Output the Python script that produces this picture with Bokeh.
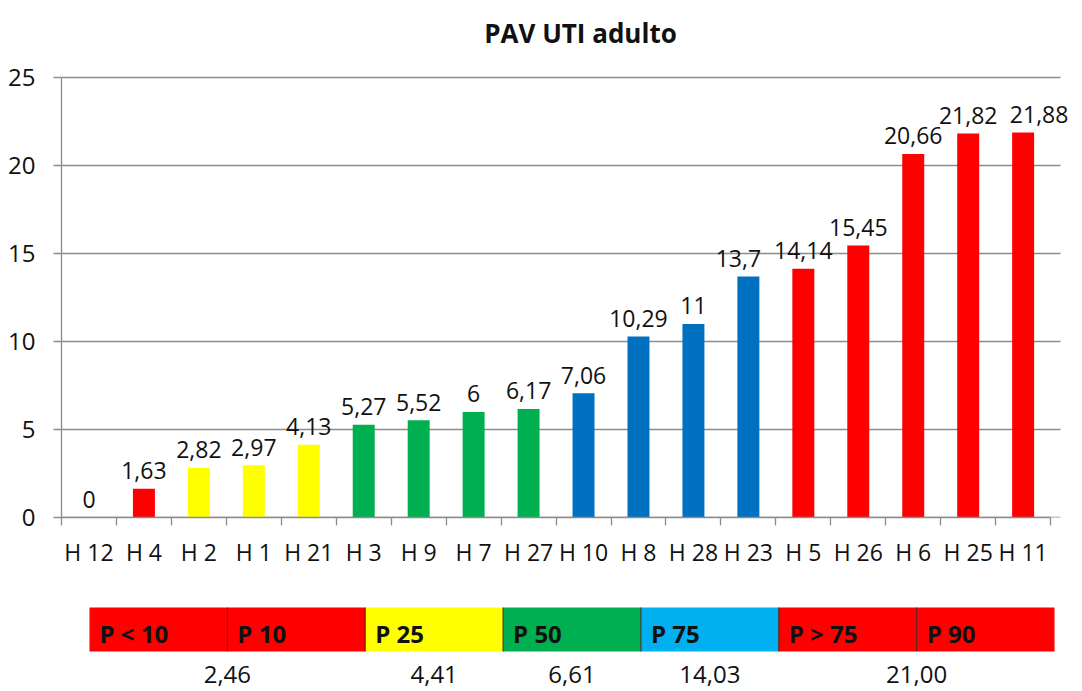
import numpy as np
from bokeh.plotting import figure
from bokeh.models import ColumnDataSource, Range1d, FixedTicker
from bokeh.layouts import column
from bokeh.embed import file_html
from bokeh.resources import INLINE
from bokeh.core.properties import value

# ---------------- data ----------------
title_text = "PAV UTI adulto"
categories = ["H 12", "H 4", "H 2", "H 1", "H 21", "H 3", "H 9", "H 7", "H 27",
              "H 10", "H 8", "H 28", "H 23", "H 5", "H 26", "H 6", "H 25", "H 11"]
values = [0, 1.63, 2.82, 2.97, 4.13, 5.27, 5.52, 6, 6.17,
          7.06, 10.29, 11, 13.7, 14.14, 15.45, 20.66, 21.82, 21.88]
bar_colors = ["#FF0000", "#FF0000", "#FFFF00", "#FFFF00", "#FFFF00",
              "#00B050", "#00B050", "#00B050", "#00B050",
              "#0070C0", "#0070C0", "#0070C0", "#0070C0",
              "#FF0000", "#FF0000", "#FF0000", "#FF0000", "#FF0000"]
y_ticks = [0, 5, 10, 15, 20, 25]

band_labels = ["P < 10", "P 10", "P 25", "P 50", "P 75", "P > 75", "P 90"]
band_colors = ["#FF0000", "#FF0000", "#FFFF00", "#00B050", "#00B0F0", "#FF0000", "#FF0000"]
threshold_labels = ["2,46", "4,41", "6,61", "14,03", "21,00"]
threshold_band_pos = [1, 2.5, 3.5, 4.5, 6]

FONT = "Open Sans"
GRID = "#8c8c8c"
TXT = "#111111"

# layout (pixels)
W = 1080
H1, H2 = 580, 110
FL = 61                    # chart frame left
GR = 1060                  # right end of the gridlines
Y0_PX, Y25_PX = 517, 77    # pixel rows of y=0 and y=25
n = len(categories)
px_per_cat = (GR - FL) / 18.18
px_per_y = (Y0_PX - Y25_PX) / 25.0
x_end = (W - FL) / px_per_cat
grid_end = (GR - FL) / px_per_cat
y_top = 25 + Y25_PX / px_per_y

# small horizontal nudges of some data labels (as placed in the original)
label_nudge = {"H 23": -10, "H 11": 16}

# ---------------- main chart ----------------
centers = np.arange(n) + 0.5
labels = [f"{v:g}".replace(".", ",") for v in values]
dx = [label_nudge.get(c, 0) for c in categories]
src = ColumnDataSource(dict(x=centers, top=values, color=bar_colors, label=labels, dx=dx))

p = figure(width=W, height=H1, output_backend="svg", toolbar_location=None,
           x_range=Range1d(0, x_end), y_range=Range1d(0, y_top),
           min_border_left=FL, min_border_right=0, min_border_top=0,
           min_border_bottom=H1 - Y0_PX)
p.outline_line_color = None
p.background_fill_color = "white"
p.border_fill_color = "white"

# horizontal gridlines (ending where the original's do)
p.xgrid.visible = False
p.ygrid.visible = False
p.segment(x0=[0] * len(y_ticks), x1=[grid_end] * len(y_ticks), y0=y_ticks, y1=y_ticks,
          line_color=GRID, line_width=1.3)

p.vbar(x="x", top="top", width=0.4, bottom=0, fill_color="color", line_color=None, source=src)
p.text(x="x", y="top", text="label", source=src, text_align="center",
       text_baseline="alphabetic", y_offset=-18, x_offset="dx", text_font=value(FONT),
       text_font_size="23px", text_color=TXT)

# title, drawn in the empty band above y = 25
p.text(x=[n / 2], y=[25 + (Y25_PX - 32) / px_per_y], text=[title_text],
       x_offset=(580 - FL) - (n / 2) * px_per_cat,
       text_align="center", text_baseline="alphabetic", text_font=value(FONT),
       text_font_size="26px", text_font_style="bold", text_color=TXT)

# y axis
p.yaxis.ticker = FixedTicker(ticks=y_ticks)
p.yaxis.bounds = (0, 25)
p.yaxis.axis_line_color = GRID
p.yaxis.axis_line_width = 1.3
p.yaxis.major_tick_line_color = GRID
p.yaxis.major_tick_line_width = 1.3
p.yaxis.major_tick_in = 0
p.yaxis.major_tick_out = 8
p.yaxis.minor_tick_line_color = None
p.yaxis.major_label_standoff = 18
p.yaxis.major_label_text_font = FONT
p.yaxis.major_label_text_font_size = "24px"
p.yaxis.major_label_text_color = TXT

# x axis: labels at centres, tick marks at category boundaries
p.xaxis.ticker = FixedTicker(ticks=list(centers), minor_ticks=list(np.arange(n + 1)))
p.xaxis.major_label_overrides = {float(c): cat for c, cat in zip(centers, categories)}
p.xaxis.bounds = (0, n)
p.xaxis.axis_line_color = GRID
p.xaxis.axis_line_width = 1.3
p.xaxis.major_tick_line_color = None
p.xaxis.major_tick_in = 0
p.xaxis.major_tick_out = 8
p.xaxis.minor_tick_line_color = GRID
p.xaxis.minor_tick_line_width = 1.3
p.xaxis.minor_tick_in = 0
p.xaxis.minor_tick_out = 8
p.xaxis.major_label_standoff = 10
p.xaxis.major_label_text_font = FONT
p.xaxis.major_label_text_font_size = "23px"
p.xaxis.major_label_text_color = TXT

# ---------------- percentile strip ----------------
nb = len(band_labels)
SL, SR = 89, 1054            # strip left/right pixels
ST, SB = 607 - H1, 651 - H1  # strip top/bottom inside second figure
band_px = (SR - SL) / nb
sx0 = -(SL - FL) / band_px
sx1 = nb + (W - SR) / band_px
sh = SB - ST
sy0 = -(H2 - SB) / sh
sy1 = 1 + ST / sh

band_left = np.arange(nb)
bsrc = ColumnDataSource(dict(left=band_left, right=band_left + 1, color=band_colors, label=band_labels))

q = figure(width=W, height=H2, output_backend="svg", toolbar_location=None,
           x_range=Range1d(sx0, sx1), y_range=Range1d(sy0, sy1),
           x_axis_location=None, y_axis_location=None,
           min_border_left=FL, min_border_right=0, min_border_top=0, min_border_bottom=0)
q.outline_line_color = None
q.grid.visible = False
q.background_fill_color = "white"
q.border_fill_color = "white"

q.quad(left="left", right="right", bottom=0, top=1, fill_color="color", line_color=None, source=bsrc)
bx = list(np.arange(1, nb))
q.segment(x0=bx, y0=[0] * len(bx), x1=bx, y1=[1] * len(bx), line_color="#4a2020", line_width=1)
q.text(x="left", y=0.5, text="label", source=bsrc, x_offset=10, y_offset=4,
       text_baseline="middle", text_align="left", text_font=value(FONT),
       text_font_size="24px", text_font_style="bold", text_color="#111111")
q.text(x=threshold_band_pos, y=[sy0] * len(threshold_band_pos), text=threshold_labels,
       y_offset=-8,
       text_align="center", text_baseline="bottom", text_font=value(FONT),
       text_font_size="24px", text_color=TXT)

layout = column(p, q, spacing=0)
open("out.html", "w").write(file_html(layout, INLINE))
